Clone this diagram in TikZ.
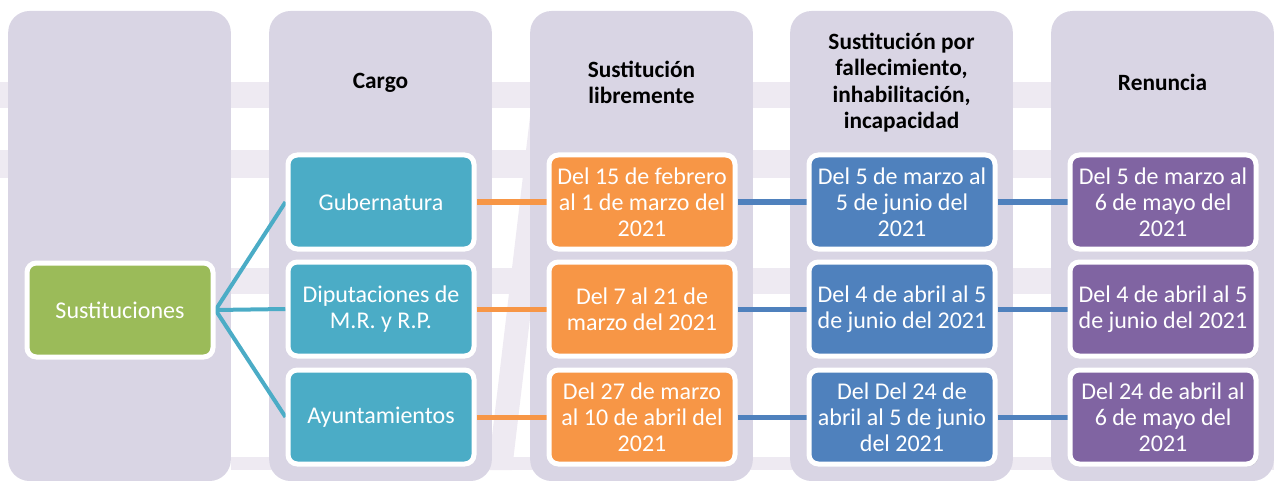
\documentclass[tikz,border=0pt]{standalone}
\usepackage{fontspec}
\setmainfont{Carlito}
\usetikzlibrary{shadows}
\definecolor{fondoCol}{HTML}{D9D5E4}
\definecolor{franja}{HTML}{EEEAF2}
\definecolor{verde}{HTML}{9BBB59}
\definecolor{turquesa}{HTML}{4BACC6}
\definecolor{naranja}{HTML}{F79646}
\definecolor{azul}{HTML}{4F81BD}
\definecolor{morado}{HTML}{8064A2}
\pgfdeclarelayer{fondo}
\pgfdeclarelayer{lineas}
\pgfsetlayers{fondo,lineas,main}
\tikzset{
  columna/.style={fill=fondoCol, rounded corners=16pt, inner sep=0pt,
    minimum width=167pt, minimum height=352.5pt},
  titulo/.style={font=\bfseries\fontsize{17.5}{19.8}\selectfont, align=center,
    text=black},
  caja/.style={draw=white, line width=3.75pt, rounded corners=7pt,
    minimum width=139.5pt, minimum height=70.5pt, inner sep=0pt,
    align=center, text=white, font=\fontsize{18}{19.6}\selectfont},
  sombra/.style={drop shadow={shadow xshift=1.5pt, shadow yshift=-1.5pt, opacity=0.35}},
  enlace/.style={line width=3.75pt},
}
\begin{document}
\begin{tikzpicture}[x=0.75pt,y=-0.75pt]
  \useasboundingbox (0,0) rectangle (1274,481);
  \begin{pgfonlayer}{fondo}
    % franjas tenues detras de las columnas
    \fill[franja] (0,82) rectangle (1274,108);
    \fill[franja] (0,150) rectangle (1274,178);
    \fill[franja] (231,268) rectangle (1274,294);
    \fill[franja] (231,457) rectangle (1274,470);
    \fill[franja] (488,470) -- (512,470) -- (556,100) -- (532,100) -- cycle;
    % columnas de fondo
    \foreach \nombre/\cx in {colA/119.5, colB/380.5, colC/641.5, colD/901.5, colE/1162.5}
      \node[columna] (\nombre) at (\cx,246) {};
  \end{pgfonlayer}
  % encabezados
  \node[titulo] (tCargo)  at (380.5,82.5) {Cargo};
  \node[titulo] (tLibre)  at (641.5,82.5) {Sustitución\\libremente};
  \node[titulo] (tFalle)  at (901.5,82.5) {Sustitución por\\fallecimiento,\\inhabilitación,\\incapacidad};
  \node[titulo] (tRenun)  at (1162.5,82.5) {Renuncia};
  % cajas
  \node[caja, fill=verde] (sust) at (120,310) {Sustituciones};
  \node[caja, fill=turquesa] (carGub) at (381,202) {Gubernatura};
  \node[caja, fill=turquesa] (carDip) at (381,309) {Diputaciones de\\M.R. y R.P.};
  \node[caja, fill=turquesa] (carAyu) at (381,417) {Ayuntamientos};
  \node[caja, fill=naranja] (libGub) at (642,202) {Del 15 de febrero\\al 1 de marzo del\\2021};
  \node[caja, fill=naranja] (libDip) at (642,309) {Del 7 al 21 de\\marzo del 2021};
  \node[caja, fill=naranja] (libAyu) at (642,417) {Del 27 de marzo\\al 10 de abril del\\2021};
  \node[caja, fill=azul] (falGub) at (902,202) {Del 5 de marzo al\\5 de junio del\\2021};
  \node[caja, fill=azul] (falDip) at (902,309) {Del 4 de abril al 5\\de junio del 2021};
  \node[caja, fill=azul] (falAyu) at (902,417) {Del Del 24 de\\abril al 5 de junio\\del 2021};
  \node[caja, fill=morado, sombra] (renGub) at (1163,202) {Del 5 de marzo al\\6 de mayo del\\2021};
  \node[caja, fill=morado, sombra] (renDip) at (1163,309) {Del 4 de abril al 5\\de junio del 2021};
  \node[caja, fill=morado, sombra] (renAyu) at (1163,417) {Del 24 de abril al\\6 de mayo del\\2021};
  \begin{pgfonlayer}{lineas}
    % conectores
    \foreach \fila in {Gub,Dip,Ayu} {
      \draw[enlace, turquesa, line width=3pt] (sust.east) -- (car\fila.west);
      \draw[enlace, naranja] (car\fila.east) -- (lib\fila.west);
      \draw[enlace, azul] (lib\fila.east) -- (fal\fila.west);
      \draw[enlace, azul] (fal\fila.east) -- (ren\fila.west);
    }
  \end{pgfonlayer}
\end{tikzpicture}
\end{document}
